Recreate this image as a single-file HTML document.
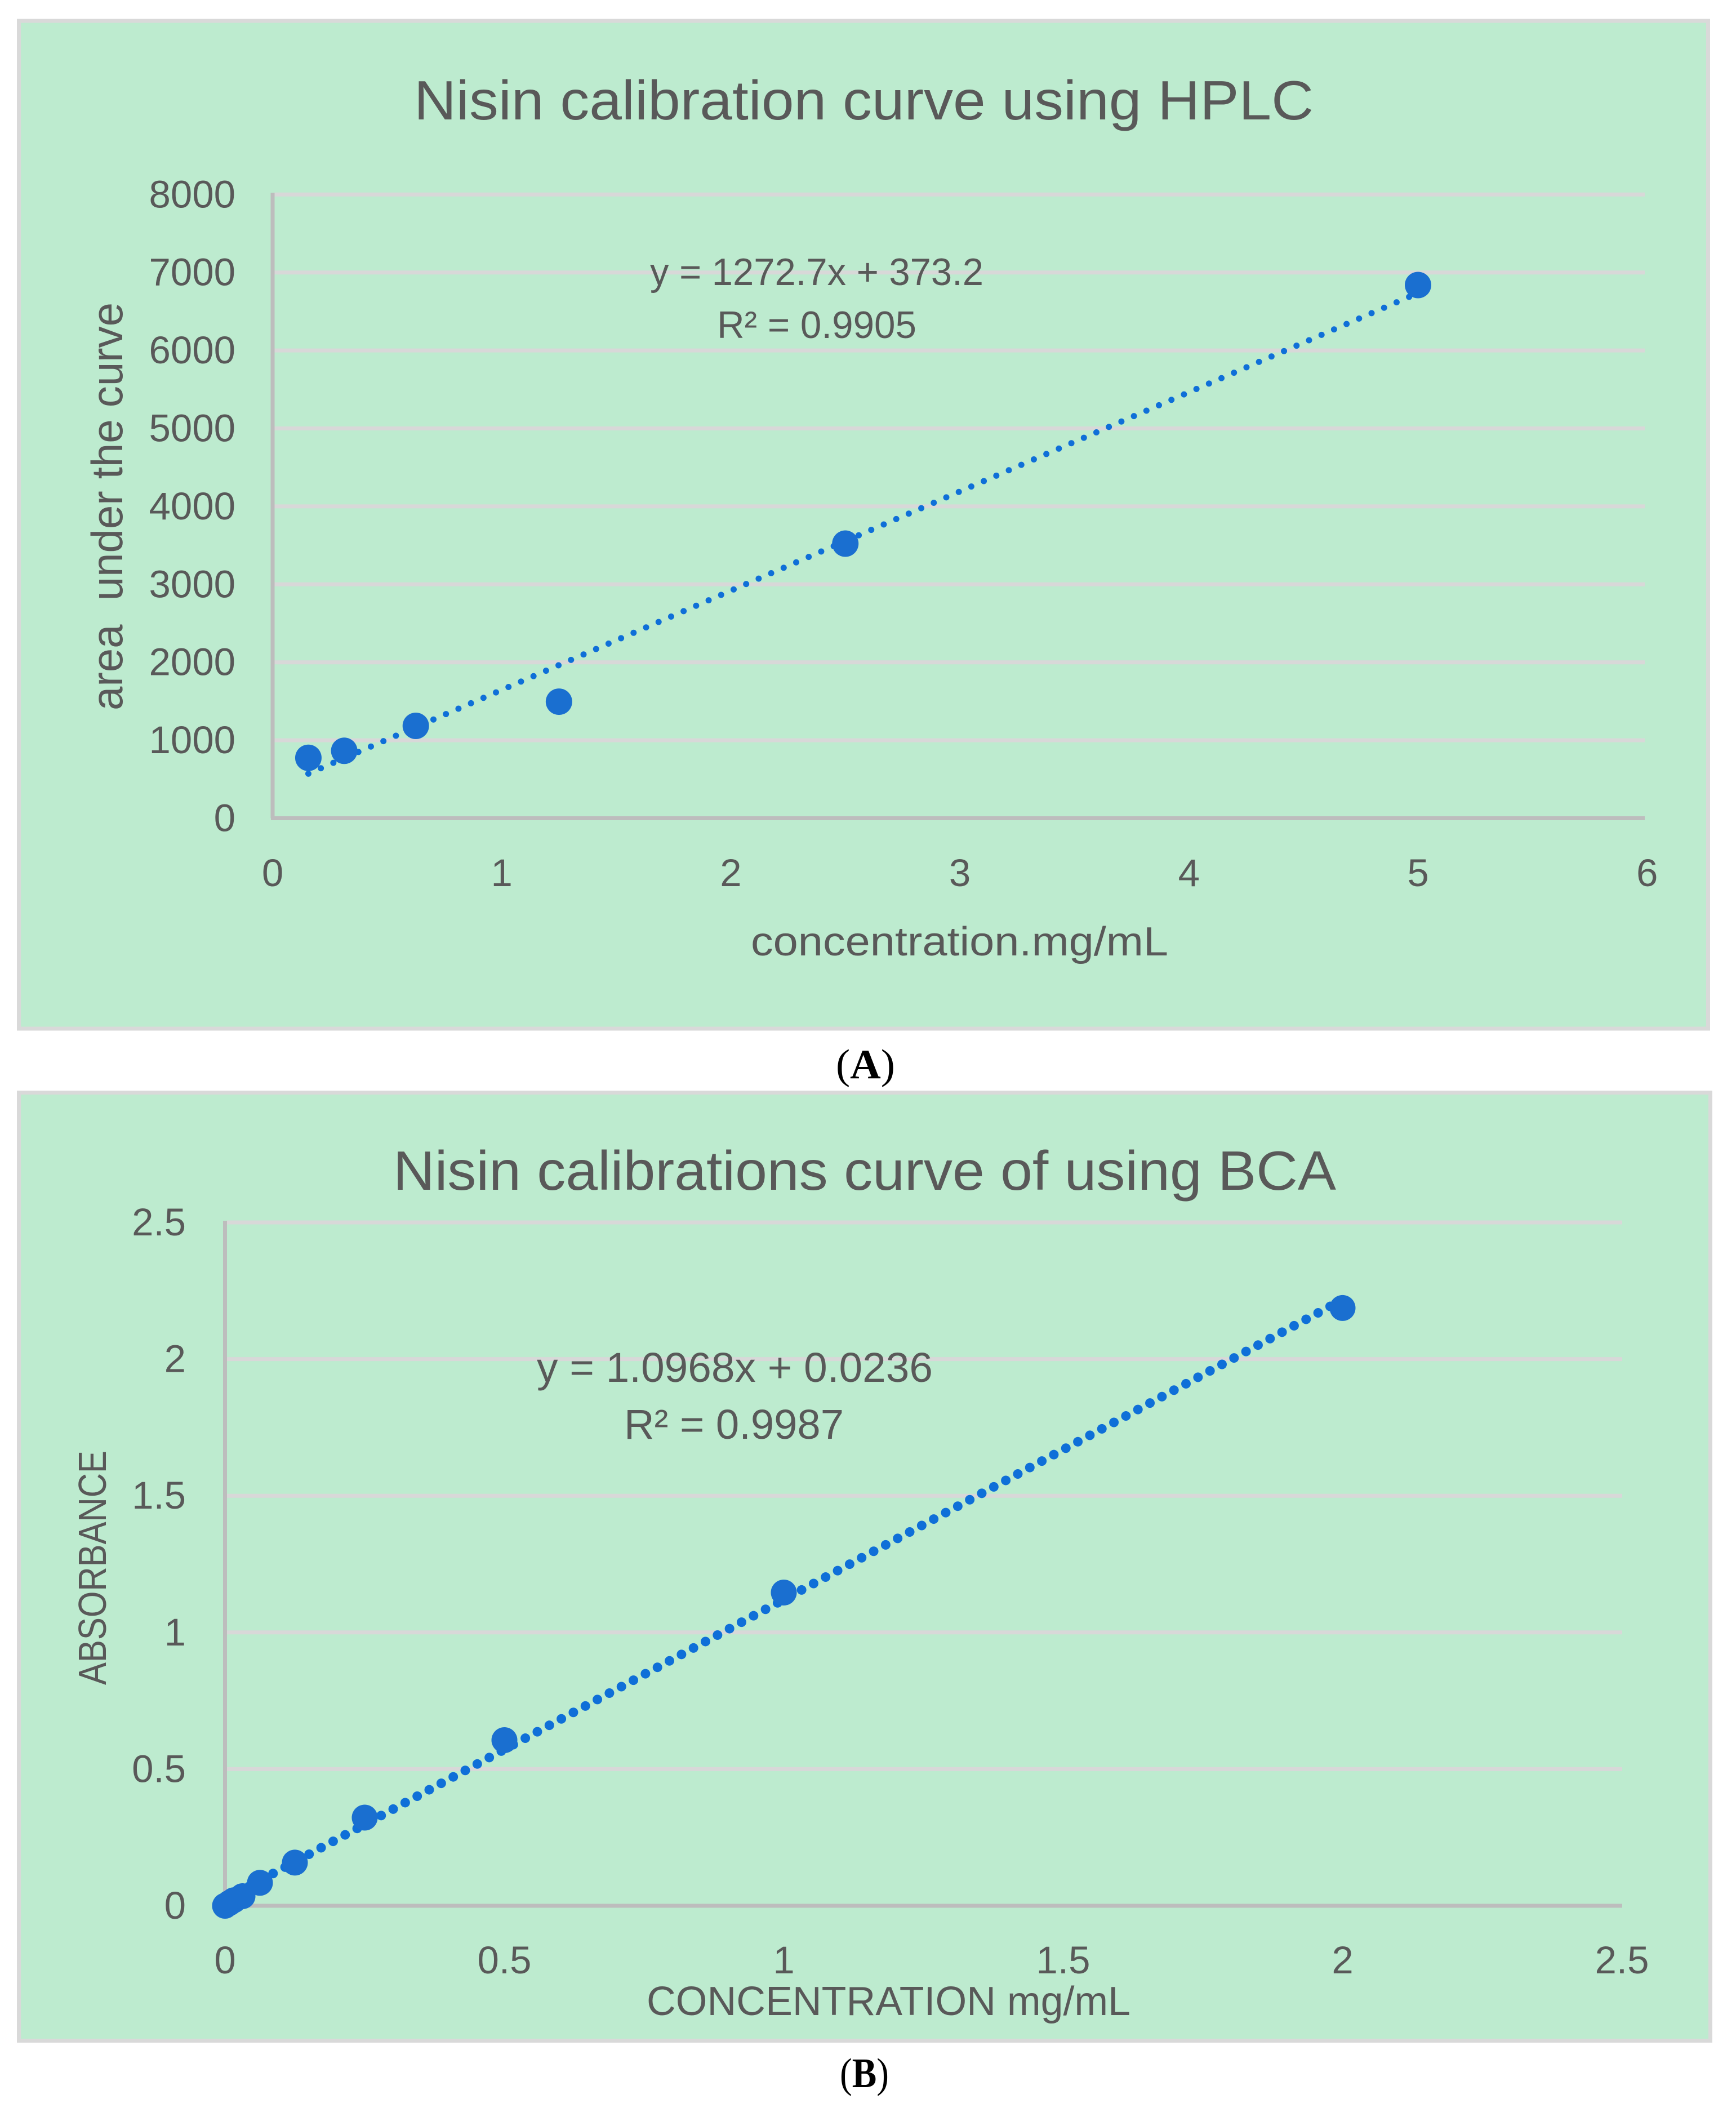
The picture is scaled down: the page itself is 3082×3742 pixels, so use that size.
<!DOCTYPE html>
<html lang="en">
<head>
<meta charset="utf-8">
<title>Nisin calibration curves</title>
<style>
html,body{margin:0;padding:0;background:#fff;width:3082px;height:3742px;overflow:hidden}
svg{display:block}
text{font-family:"Liberation Sans",sans-serif;fill:#595959}
.caption{font-family:"Liberation Serif",serif;fill:#000;font-size:74px}
</style>
</head>
<body>
<svg id="figure" xmlns="http://www.w3.org/2000/svg" width="3082" height="3742" viewBox="0 0 3082 3742">
  <rect x="33.5" y="37" width="2999" height="1789" fill="#bdebcf" stroke="#d9d9d9" stroke-width="7"/>
  <g id="chartA"></g>
  <text x="735" y="212" font-size="98" textLength="1597" lengthAdjust="spacingAndGlyphs">Nisin calibration curve using HPLC</text>
  <text x="1333" y="1696" font-size="72" textLength="741" lengthAdjust="spacingAndGlyphs">concentration.mg/mL</text>
  <text transform="translate(217,1261) rotate(-90)" font-size="78" textLength="724" lengthAdjust="spacingAndGlyphs" xml:space="preserve">area  under the curve</text>
  <text x="1154" y="506" font-size="68" textLength="592" lengthAdjust="spacingAndGlyphs">y = 1272.7x + 373.2</text>
  <text x="1273" y="600" font-size="68" textLength="354" lengthAdjust="spacingAndGlyphs">R² = 0.9905</text>
  <text class="caption" x="1484" y="1914" textLength="105" lengthAdjust="spacingAndGlyphs">(<tspan font-weight="bold">A</tspan>)</text>

  <rect x="33.5" y="1939.5" width="3003" height="1683" fill="#bdebcf" stroke="#d9d9d9" stroke-width="7"/>
  <g id="chartB"></g>
  <text x="698" y="2112" font-size="98" textLength="1674" lengthAdjust="spacingAndGlyphs">Nisin calibrations curve of using BCA</text>
  <text x="1148" y="3577" font-size="72" textLength="859" lengthAdjust="spacingAndGlyphs">CONCENTRATION mg/mL</text>
  <text transform="translate(188,2991) rotate(-90)" font-size="70" textLength="416" lengthAdjust="spacingAndGlyphs">ABSORBANCE</text>
  <text x="953" y="2453" font-size="74" textLength="703" lengthAdjust="spacingAndGlyphs">y = 1.0968x + 0.0236</text>
  <text x="1108" y="2554" font-size="74" textLength="390" lengthAdjust="spacingAndGlyphs">R² = 0.9987</text>
  <text class="caption" x="1491" y="3705" textLength="87" lengthAdjust="spacingAndGlyphs">(<tspan font-weight="bold">B</tspan>)</text>
</svg>
<script>
var hplcConcentration = [0.156, 0.3125, 0.625, 1.25, 2.5, 5];
var hplcArea = [775, 865, 1185, 1495, 3522, 6839];
var hplcXTicks = [0, 1, 2, 3, 4, 5, 6];
var hplcYTicks = [0, 1000, 2000, 3000, 4000, 5000, 6000, 7000, 8000];
var hplcSlope = 1272.7;
var hplcIntercept = 373.2;

var bcaConcentration = [0, 0.0078, 0.0156, 0.03125, 0.0625, 0.125, 0.25, 0.5, 1, 2];
var bcaAbsorbance = [0, 0.01, 0.02, 0.035, 0.084, 0.158, 0.3225, 0.606, 1.146, 2.187];
var bcaXTicks = [0, 0.5, 1, 1.5, 2, 2.5];
var bcaYTicks = [0, 0.5, 1, 1.5, 2, 2.5];
var bcaSlope = 1.0968;
var bcaIntercept = 0.0236;

var SVGNS = 'http://www.w3.org/2000/svg';
function shape(tag, attrs, parent) {
  var el = document.createElementNS(SVGNS, tag);
  for (var k in attrs) el.setAttribute(k, attrs[k]);
  parent.appendChild(el);
  return el;
}

function drawGrid(parent, yTicks, y, x0, x1) {
  yTicks.forEach(function (t, i) {
    if (i === 0) return;
    var line = shape('line', {x1: x0, x2: x1, y1: y(t), y2: y(t), stroke: '#d8d8d8', 'stroke-width': 7}, parent);
    
    
  });
}
function drawAxes(parent, x0, x1, yTop, yBottom) {
  var xAxis = shape('line', {x1: x0 - 3, x2: x1, y1: yBottom, y2: yBottom, stroke: '#bdbdbd', 'stroke-width': 7}, parent);
  
  
  var yAxis = shape('line', {x1: x0, x2: x0, y1: yTop, y2: yBottom, stroke: '#bdbdbd', 'stroke-width': 7}, parent);
  
  
}
function drawTickLabels(parent, xTicks, yTicks, x, y, yLabelRight, xLabelBase) {
  yTicks.forEach(function (t) {
    var label = shape('text', {x: yLabelRight, y: y(t) + 23, 'text-anchor': 'end', 'font-size': 69}, parent);
    label.textContent = String(t);
    
    
  });
  xTicks.forEach(function (t) {
    var label = shape('text', {x: x(t), y: xLabelBase, 'text-anchor': 'middle', 'font-size': 69}, parent);
    label.textContent = String(t);
    
    
  });
}
function drawTrend(parent, xs, slope, intercept, x, y, width) {
  var a = xs[0], b = xs[xs.length - 1];
  var line = shape('line', {
    x1: x(a), y1: y(slope * a + intercept), x2: x(b), y2: y(slope * b + intercept),
    stroke: '#0f6fd8', 'stroke-width': width, 'stroke-linecap': 'round', 'stroke-dasharray': '0 24.2'
  }, parent);
  
  
}
function drawPoints(parent, xs, ys, x, y, r) {
  xs.forEach(function (v, i) {
    var dot = shape('circle', {cx: x(v), cy: y(ys[i]), r: r, fill: '#1a6fd0'}, parent);
    
    
  });
}

// Chart A axis functions
var ax = function (v) { return 484 + v * 406.7; };
var ay = function (v) { return 1452.5 - v * 0.1384; };
var gA = document.getElementById('chartA');
drawGrid(gA, hplcYTicks, ay, 487, 2920);
drawAxes(gA, 484, 2920, ay(8000) - 3, 1452.5);
drawTickLabels(gA, hplcXTicks, hplcYTicks, ax, ay, 418, 1573);
drawTrend(gA, hplcConcentration, hplcSlope, hplcIntercept, ax, ay, 11);
drawPoints(gA, hplcConcentration, hplcArea, ax, ay, 23.5);

// Chart B axis functions
var bx = function (v) { return 399.5 + v * 992; };
var by = function (v) { return 3383 - v * 485.2; };
var gB = document.getElementById('chartB');
drawGrid(gB, bcaYTicks, by, 403, 2880);
drawAxes(gB, 399.5, 2880, by(2.5) - 3, 3383);
drawTickLabels(gB, bcaXTicks, bcaYTicks, bx, by, 330, 3503);
drawTrend(gB, bcaConcentration, bcaSlope, bcaIntercept, bx, by, 17);
drawPoints(gB, bcaConcentration, bcaAbsorbance, bx, by, 23);
</script>
</body>
</html>
